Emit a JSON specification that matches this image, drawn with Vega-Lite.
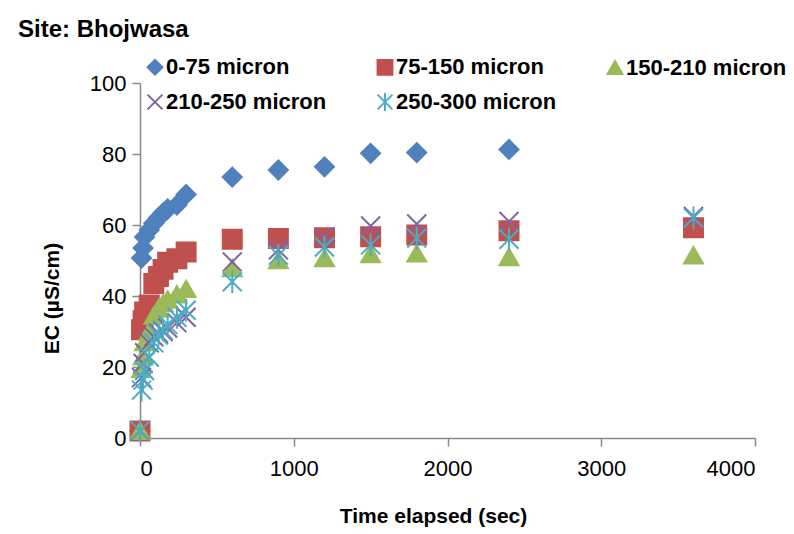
{
  "$schema": "https://vega.github.io/schema/vega-lite/v6.json",
  "autosize": "none",
  "width": 615,
  "height": 355,
  "padding": {"left": 140, "top": 83, "right": 39, "bottom": 96},
  "background": "white",
  "title": {"text": "Site: Bhojwasa", "anchor": "start", "frame": "group", "dx": -122, "fontSize": 24, "fontWeight": "bold", "font": "Liberation Sans", "color": "black", "baseline": "alphabetic", "offset": -5},
  "config": {
    "view": {"stroke": null},
    "axis": {"grid": false, "domainColor": "#888888", "tickColor": "#888888", "domainWidth": 1.5, "tickWidth": 1.5, "labelFont": "Liberation Sans", "labelFontSize": 22, "labelColor": "black", "titleFont": "Liberation Sans", "titleFontSize": 21, "titleFontWeight": "bold", "titleColor": "black", "tickSize": 8}
  },
  "data": {"values": [
    {"t": 0, "ec": 2, "s": "0-75 micron"},
    {"t": 10, "ec": 50.7, "s": "0-75 micron"},
    {"t": 20, "ec": 53.5, "s": "0-75 micron"},
    {"t": 30, "ec": 56.6, "s": "0-75 micron"},
    {"t": 60, "ec": 58.6, "s": "0-75 micron"},
    {"t": 90, "ec": 60.5, "s": "0-75 micron"},
    {"t": 120, "ec": 62, "s": "0-75 micron"},
    {"t": 150, "ec": 63.4, "s": "0-75 micron"},
    {"t": 180, "ec": 64.5, "s": "0-75 micron"},
    {"t": 240, "ec": 65.6, "s": "0-75 micron"},
    {"t": 300, "ec": 68.6, "s": "0-75 micron"},
    {"t": 600, "ec": 73.5, "s": "0-75 micron"},
    {"t": 900, "ec": 75.5, "s": "0-75 micron"},
    {"t": 1200, "ec": 76.4, "s": "0-75 micron"},
    {"t": 1500, "ec": 80.2, "s": "0-75 micron"},
    {"t": 1800, "ec": 80.4, "s": "0-75 micron"},
    {"t": 2400, "ec": 81.3, "s": "0-75 micron"},
    {"t": 0, "ec": 2, "s": "75-150 micron"},
    {"t": 10, "ec": 30.5, "s": "75-150 micron"},
    {"t": 20, "ec": 33, "s": "75-150 micron"},
    {"t": 30, "ec": 35.5, "s": "75-150 micron"},
    {"t": 60, "ec": 37.5, "s": "75-150 micron"},
    {"t": 90, "ec": 43.5, "s": "75-150 micron"},
    {"t": 120, "ec": 45.5, "s": "75-150 micron"},
    {"t": 150, "ec": 47.5, "s": "75-150 micron"},
    {"t": 180, "ec": 49.5, "s": "75-150 micron"},
    {"t": 240, "ec": 50.5, "s": "75-150 micron"},
    {"t": 300, "ec": 52.4, "s": "75-150 micron"},
    {"t": 600, "ec": 56, "s": "75-150 micron"},
    {"t": 900, "ec": 56.2, "s": "75-150 micron"},
    {"t": 1200, "ec": 56.4, "s": "75-150 micron"},
    {"t": 1500, "ec": 56.7, "s": "75-150 micron"},
    {"t": 1800, "ec": 57.2, "s": "75-150 micron"},
    {"t": 2400, "ec": 58.4, "s": "75-150 micron"},
    {"t": 3600, "ec": 59.2, "s": "75-150 micron"},
    {"t": 0, "ec": 2, "s": "150-210 micron"},
    {"t": 10, "ec": 19.5, "s": "150-210 micron"},
    {"t": 20, "ec": 23, "s": "150-210 micron"},
    {"t": 30, "ec": 27, "s": "150-210 micron"},
    {"t": 60, "ec": 30, "s": "150-210 micron"},
    {"t": 90, "ec": 34.5, "s": "150-210 micron"},
    {"t": 120, "ec": 36.5, "s": "150-210 micron"},
    {"t": 150, "ec": 38, "s": "150-210 micron"},
    {"t": 180, "ec": 39, "s": "150-210 micron"},
    {"t": 240, "ec": 40.5, "s": "150-210 micron"},
    {"t": 300, "ec": 42, "s": "150-210 micron"},
    {"t": 600, "ec": 47.9, "s": "150-210 micron"},
    {"t": 900, "ec": 50.1, "s": "150-210 micron"},
    {"t": 1200, "ec": 50.7, "s": "150-210 micron"},
    {"t": 1500, "ec": 51.8, "s": "150-210 micron"},
    {"t": 1800, "ec": 52, "s": "150-210 micron"},
    {"t": 2400, "ec": 51, "s": "150-210 micron"},
    {"t": 3600, "ec": 51.5, "s": "150-210 micron"},
    {"t": 0, "ec": 2, "s": "210-250 micron"},
    {"t": 10, "ec": 17, "s": "210-250 micron"},
    {"t": 20, "ec": 21, "s": "210-250 micron"},
    {"t": 30, "ec": 24, "s": "210-250 micron"},
    {"t": 60, "ec": 26.8, "s": "210-250 micron"},
    {"t": 90, "ec": 28.5, "s": "210-250 micron"},
    {"t": 120, "ec": 29.5, "s": "210-250 micron"},
    {"t": 150, "ec": 30, "s": "210-250 micron"},
    {"t": 180, "ec": 31, "s": "210-250 micron"},
    {"t": 240, "ec": 32.5, "s": "210-250 micron"},
    {"t": 300, "ec": 34, "s": "210-250 micron"},
    {"t": 600, "ec": 49.6, "s": "210-250 micron"},
    {"t": 900, "ec": 53, "s": "210-250 micron"},
    {"t": 1200, "ec": 56.6, "s": "210-250 micron"},
    {"t": 1500, "ec": 59.7, "s": "210-250 micron"},
    {"t": 1800, "ec": 60.3, "s": "210-250 micron"},
    {"t": 2400, "ec": 61, "s": "210-250 micron"},
    {"t": 3600, "ec": 62.4, "s": "210-250 micron"},
    {"t": 0, "ec": 2, "s": "250-300 micron"},
    {"t": 10, "ec": 13.5, "s": "250-300 micron"},
    {"t": 20, "ec": 16.3, "s": "250-300 micron"},
    {"t": 30, "ec": 19, "s": "250-300 micron"},
    {"t": 60, "ec": 22.8, "s": "250-300 micron"},
    {"t": 90, "ec": 26.8, "s": "250-300 micron"},
    {"t": 120, "ec": 29, "s": "250-300 micron"},
    {"t": 150, "ec": 30.4, "s": "250-300 micron"},
    {"t": 180, "ec": 32, "s": "250-300 micron"},
    {"t": 240, "ec": 34, "s": "250-300 micron"},
    {"t": 300, "ec": 36, "s": "250-300 micron"},
    {"t": 600, "ec": 44, "s": "250-300 micron"},
    {"t": 900, "ec": 51.5, "s": "250-300 micron"},
    {"t": 1200, "ec": 53.8, "s": "250-300 micron"},
    {"t": 1500, "ec": 54.4, "s": "250-300 micron"},
    {"t": 1800, "ec": 56.3, "s": "250-300 micron"},
    {"t": 2400, "ec": 56, "s": "250-300 micron"},
    {"t": 3600, "ec": 62, "s": "250-300 micron"}
  ]},
  "mark": {"type": "point", "filled": true, "size": 360, "strokeWidth": 2, "opacity": 1, "clip": false},
  "encoding": {
    "x": {"field": "t", "type": "quantitative", "scale": {"domain": [0, 4000], "nice": false, "zero": false}, "axis": {"values": [0, 1000, 2000, 3000, 4000], "format": "d", "title": "Time elapsed (sec)", "labelPadding": 12, "titleX": 293, "titleY": 84, "titleBaseline": "alphabetic", "titleAnchor": "middle", "titleAlign": "center"}},
    "y": {"field": "ec", "type": "quantitative", "scale": {"domain": [0, 100], "nice": false}, "axis": {"values": [0, 20, 40, 60, 80, 100], "title": "EC (µS/cm)", "labelPadding": 6, "titleX": -88, "titleY": 215, "titleBaseline": "middle", "titleAlign": "center", "titleAngle": -90}},
    "color": {"field": "s", "type": "nominal", "sort": null, "scale": {"domain": ["0-75 micron", "75-150 micron", "150-210 micron", "210-250 micron", "250-300 micron"], "range": ["#4F81BD", "#C0504D", "#9BBB59", "#8064A2", "#4BACC6"]}, "legend": {"title": null, "orient": "none", "legendX": 4, "legendY": -27, "direction": "horizontal", "columns": 3, "labelFont": "Liberation Sans", "labelFontSize": 22, "labelFontWeight": "bold", "labelColor": "black", "symbolSize": 220, "symbolStrokeWidth": 2, "labelOffset": 0, "columnPadding": 46, "rowPadding": 10, "padding": 0, "labelLimit": 300}},
    "stroke": {"field": "s", "type": "nominal", "sort": null, "scale": {"domain": ["0-75 micron", "75-150 micron", "150-210 micron", "210-250 micron", "250-300 micron"], "range": ["#4F81BD", "#C0504D", "#9BBB59", "#8064A2", "#4BACC6"]}},
    "shape": {"field": "s", "type": "nominal", "sort": null, "scale": {"domain": ["0-75 micron", "75-150 micron", "150-210 micron", "210-250 micron", "250-300 micron"], "range": ["diamond", "square", "triangle-up", "M-1,-1L1,1M-1,1L1,-1", "M-1,-1L1,1M-1,1L1,-1M0,-1.2L0,1.2"]}}
  }
}
